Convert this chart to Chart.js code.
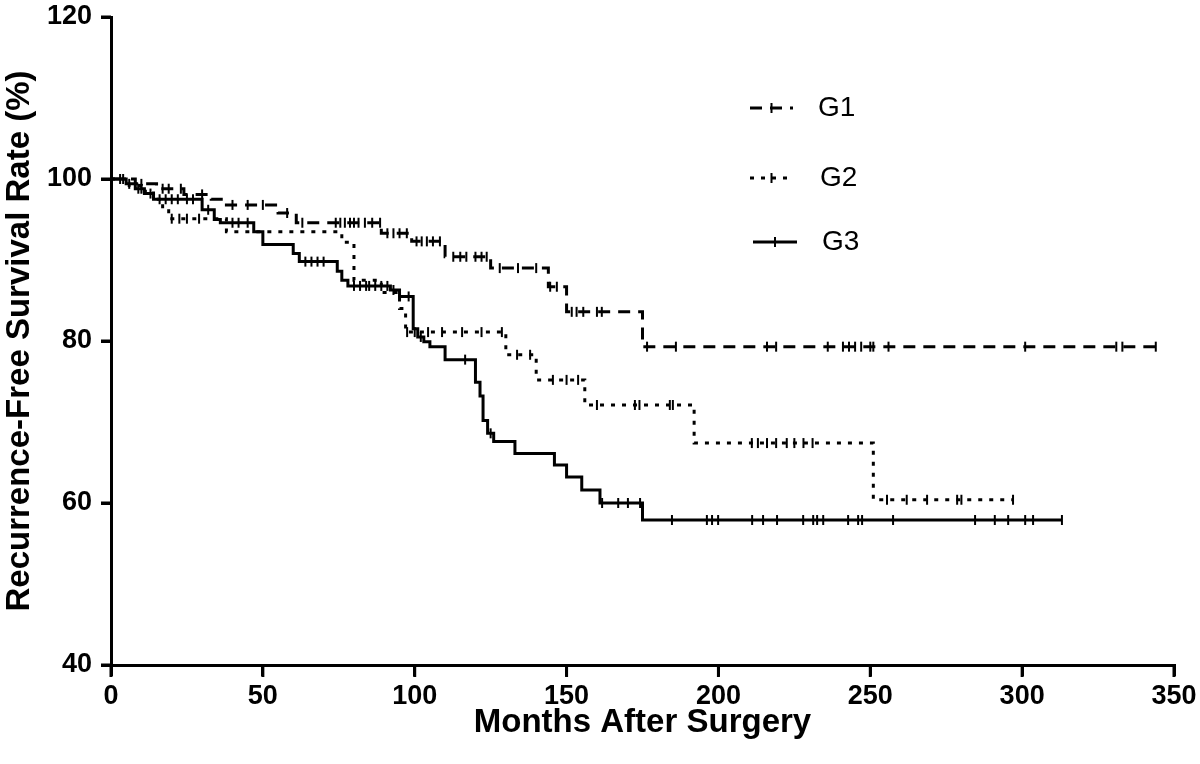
<!DOCTYPE html>
<html>
<head>
<meta charset="utf-8">
<title>Recurrence-Free Survival</title>
<script src="https://cdn.jsdelivr.net/npm/chart.js@4.4.1/dist/chart.umd.min.js"></script>
<style>
  html, body { margin: 0; padding: 0; background: #fff; }
  #wrap { width: 1200px; height: 764px; position: relative; }
</style>
</head>
<body>
<div id="wrap"><canvas id="km"></canvas></div>
<script>
// step curves: time (months) where survival drops, survival (%) after the drop
const g1Time = [0, 8, 15, 24, 33, 38, 55, 61, 89, 99, 110, 125, 144, 150, 175, 344];
const g1Surv = [100, 99.4, 98.8, 98.1, 97.5, 96.8, 95.8, 94.6, 93.3, 92.3, 90.4, 89.0, 86.7, 83.6, 79.3, 79.3];
const g1Censor = [4, 10, 17, 19, 23, 30, 40, 45, 50, 58, 63, 74, 75.5, 77, 78.7, 80, 81.5, 83.6, 86, 88.6,
  91, 93, 95, 97.4, 100.6, 102.3, 104, 106, 108.3, 112.7, 115, 117, 120, 122, 123.7, 128, 134, 140,
  144.6, 146.8, 151.7, 153.3, 155.5, 160, 161.6, 176.5, 186, 216, 219, 236, 241, 243, 245, 247, 250,
  251, 256, 301, 331, 333, 344];

const g2Time = [0, 6, 10, 14, 17, 19, 38, 76, 80, 89, 95, 97, 130, 140, 156, 192, 251, 297];
const g2Surv = [100, 99.2, 98.5, 97.5, 96.3, 95.1, 93.5, 92.2, 87.5, 86.0, 84.0, 81.1, 78.3, 75.2, 72.1, 67.4, 60.4, 60.4];
const g2Censor = [20, 22.5, 25, 29, 97.5, 100, 104.4, 109, 115.6, 122, 128.7, 133.7, 138, 145.5, 150, 153.8,
  160, 172.5, 174, 184, 185, 211, 213, 216, 219, 222.5, 225, 228, 231, 255.5, 262, 268.7, 278.6, 280, 297];

const g3Time = [0, 5, 8, 11, 14, 30, 34, 36, 47, 50, 60, 62, 74.5, 76, 78, 92, 95, 99.5, 101, 103, 105, 110,
  120, 121.5, 122.5, 124, 126, 133, 146, 150, 155, 161, 175, 313];
const g3Surv = [100, 99.4, 98.8, 98.2, 97.5, 96.2, 95.0, 94.6, 93.5, 91.9, 90.8, 89.8, 88.6, 87.5, 86.8, 86.3,
  85.5, 81.5, 80.5, 79.9, 79.3, 77.7, 74.9, 73.2, 70.2, 68.6, 67.6, 66.1, 64.7, 63.2, 61.6, 60.0, 57.9, 57.9];
const g3Censor = [3, 6, 9, 10, 13, 16, 18, 20, 22, 25, 27, 32, 40, 42, 45, 64, 66, 68, 70, 80, 82, 84, 85, 87,
  89, 91, 93, 98, 102, 116.6, 125, 161.7, 167, 170.2, 174.2, 184.7, 196.2, 197.9, 199.9, 211.1, 214.7,
  219.3, 227.9, 231.2, 232.5, 234.5, 242.7, 246, 247.3, 257.5, 284.5, 291, 295.4, 301, 303.6, 313.1];

const groupNames = ['G1', 'G2', 'G3'];
const groupDash = [[12, 8], [4, 7], []];
const xTicks = [0, 50, 100, 150, 200, 250, 300, 350];
const yTicks = [40, 60, 80, 100, 120];

const FONT = "'Liberation Sans', Arial, Helvetica, sans-serif";

function curve(times, surv) {
  return times.map((t, i) => ({ x: t, y: surv[i] }));
}

// survival value of a step curve at time t
function survAt(times, surv, t) {
  let v = surv[0];
  for (let i = 0; i < times.length; i++) {
    if (times[i] <= t) v = surv[i];
  }
  return v;
}

function censorMarks(times, surv, cens) {
  return cens.map(t => ({ x: t, y: survAt(times, surv, t) }));
}

const groups = [
  [g1Time, g1Surv, g1Censor],
  [g2Time, g2Surv, g2Censor],
  [g3Time, g3Surv, g3Censor]
];

const datasets = [];
groups.forEach((g, i) => {
  datasets.push({
    label: groupNames[i],
    type: 'line',
    data: curve(g[0], g[1]),
    stepped: 'before',
    borderColor: '#000',
    borderWidth: 3,
    borderDash: groupDash[i],
    pointRadius: 0,
    fill: false
  });
  datasets.push({
    label: groupNames[i] + ' censored',
    type: 'scatter',
    data: censorMarks(g[0], g[1], g[2]),
    showLine: false,
    pointStyle: 'line',
    rotation: 90,
    pointRadius: 5,
    borderColor: '#000',
    borderWidth: 2
  });
});

// outward tick marks on both axes, placed by the scales themselves
const axisTicks = {
  id: 'axisTicks',
  afterDraw(chart) {
    const ctx = chart.ctx;
    const xs = chart.scales.x, ys = chart.scales.y;
    const area = chart.chartArea;
    ctx.save();
    ctx.strokeStyle = '#000';
    ctx.lineWidth = 3;
    ctx.beginPath();
    xs.ticks.forEach(t => {
      const px = xs.getPixelForValue(t.value);
      ctx.moveTo(px, area.bottom);
      ctx.lineTo(px, area.bottom + 12);
    });
    ys.ticks.forEach(t => {
      const py = ys.getPixelForValue(t.value);
      ctx.moveTo(area.left, py);
      ctx.lineTo(area.left - 10, py);
    });
    ctx.stroke();
    ctx.restore();
  }
};

// hand drawn legend at the upper right like the original
const legendPlugin = {
  id: 'kmLegend',
  afterDraw(chart) {
    const ctx = chart.ctx;
    const rows = [
      { y: 108, x0: 750, x1: 793, tx: 818 },
      { y: 178, x0: 750, x1: 793, tx: 820 },
      { y: 242, x0: 753, x1: 797, tx: 822 }
    ];
    ctx.save();
    rows.forEach((r, i) => {
      ctx.strokeStyle = '#000';
      ctx.lineWidth = 3;
      ctx.setLineDash(groupDash[i]);
      ctx.beginPath();
      ctx.moveTo(r.x0, r.y);
      ctx.lineTo(r.x1, r.y);
      ctx.stroke();
      ctx.setLineDash([]);
      ctx.lineWidth = 2;
      const mx = (r.x0 + r.x1) / 2;
      ctx.beginPath();
      ctx.moveTo(mx, r.y - 5);
      ctx.lineTo(mx, r.y + 5);
      ctx.stroke();
      ctx.fillStyle = '#000';
      ctx.font = '28px ' + FONT;
      ctx.textBaseline = 'middle';
      ctx.textAlign = 'left';
      ctx.fillText(groupNames[i], r.tx, r.y);
    });
    ctx.restore();
  }
};

new Chart(document.getElementById('km'), {
  type: 'line',
  data: { datasets: datasets },
  plugins: [axisTicks, legendPlugin],
  options: {
    responsive: true,
    maintainAspectRatio: false,
    animation: false,
    layout: { padding: { top: 17, right: 26, bottom: 0, left: 0 } },
    plugins: {
      legend: { display: false },
      tooltip: { enabled: false }
    },
    scales: {
      x: {
        type: 'linear',
        min: 0,
        max: 350,
        afterFit(scale) {
          scale.height = 99;
          scale.paddingLeft = 0;
          scale.paddingRight = 0;
        },
        afterBuildTicks(scale) { scale.ticks = xTicks.map(v => ({ value: v })); },
        border: { display: true, color: '#000', width: 3 },
        grid: { display: true, drawOnChartArea: false, drawTicks: true, tickLength: 11,
                color: '#000', lineWidth: 3, tickColor: '#000', tickWidth: 3 },
        ticks: { color: '#000', padding: 4, font: { family: FONT, size: 27, weight: 'bold' } },
        title: {
          display: true,
          text: 'Months After Surgery',
          color: '#000',
          font: { family: FONT, size: 33, weight: 'bold' },
          padding: { top: 0, bottom: 21 }
        }
      },
      y: {
        type: 'linear',
        min: 40,
        max: 120,
        afterFit(scale) {
          scale.width = 111;
          scale.paddingTop = 0;
          scale.paddingBottom = 0;
        },
        afterBuildTicks(scale) { scale.ticks = yTicks.map(v => ({ value: v })); },
        border: { display: true, color: '#000', width: 3 },
        grid: { display: true, drawOnChartArea: false, drawTicks: true, tickLength: 10,
                color: '#000', lineWidth: 3, tickColor: '#000', tickWidth: 3 },
        ticks: { color: '#000', padding: 9, font: { family: FONT, size: 27, weight: 'bold' } },
        title: {
          display: true,
          text: 'Recurrence-Free Survival Rate (%)',
          color: '#000',
          font: { family: FONT, size: 33, weight: 'bold' },
          padding: { top: 0, bottom: 0 }
        }
      }
    }
  }
});
</script>
</body>
</html>
